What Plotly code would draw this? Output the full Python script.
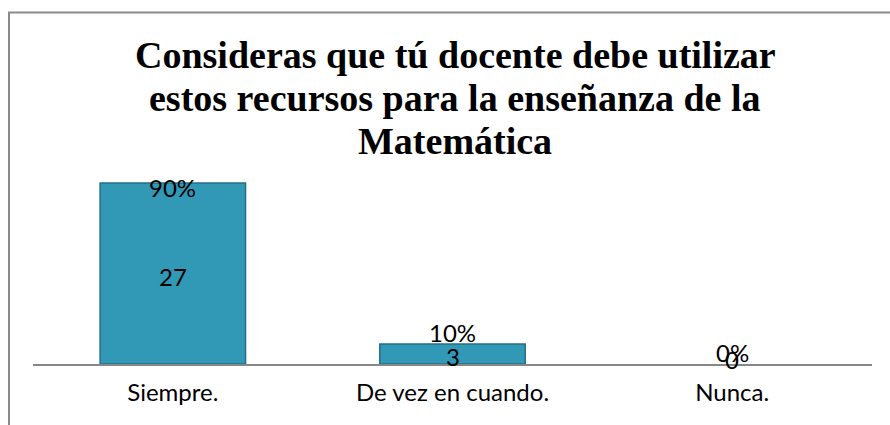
import plotly.graph_objects as go

categories = ["Siempre.", "De vez en cuando.", "Nunca."]
counts = [27, 3, 0]
percents = ["90%", "10%", "0%"]
title_lines = ["Consideras que tú docente debe utilizar",
               "estos recursos para la enseñanza de la",
               "Matemática"]

Y_MAX = 30
label_font = dict(family="Lato, Liberation Sans, sans-serif", size=24, color="#000000")
title_font = dict(family="Liberation Serif, Times New Roman, serif", size=38, color="#000000")

fig = go.Figure()
fig.add_trace(go.Bar(
    x=categories, y=counts,
    marker=dict(color="#3199b6", line=dict(width=0)),
    hoverinfo="x+y",
))
# darker outline (bevel look), omitted for empty bars
fig.add_trace(go.Bar(
    x=categories, y=counts,
    marker=dict(color="rgba(0,0,0,0)",
                line=dict(color="#236f86", width=[1.5 if v > 0 else 0 for v in counts])),
    hoverinfo="skip",
))

annotations = []
for cat, val, pct in zip(categories, counts, percents):
    big = val > 0.5 * Y_MAX
    annotations.append(dict(
        x=cat, y=val, xref="x", yref="y", text=pct, showarrow=False,
        yanchor="middle" if big else "bottom", yshift=-4 if big else -5,
        font=label_font))
    annotations.append(dict(
        x=cat, y=val / 2, xref="x", yref="y", text=str(val), showarrow=False,
        yanchor="middle", yshift=-3 if val else 5, font=label_font))

for i, line in enumerate(title_lines):
    annotations.append(dict(
        x=0.503, y=1.535 - i * 0.212, xref="paper", yref="paper", showarrow=False,
        text="<b>" + line + "</b>", xanchor="center", yanchor="middle",
        font=title_font))

fig.update_layout(
    width=890, height=425,
    margin=dict(l=33, r=18, t=163, b=61),
    paper_bgcolor="white", plot_bgcolor="white",
    showlegend=False,
    barmode="overlay",
    bargap=0.48,
    annotations=annotations,
    xaxis=dict(showline=True, linecolor="#878787", linewidth=2, showgrid=False,
               ticks="outside", ticklen=6, tickcolor="rgba(0,0,0,0)",
               tickfont=label_font, fixedrange=True),
    yaxis=dict(range=[0, Y_MAX], visible=False, fixedrange=True),
    shapes=[dict(type="path", xref="paper", yref="paper",
                 path="M -0.0286,-0.5 L -0.0286,1.7488 L 1.05,1.7488",
                 line=dict(color="#8a8a8a", width=2))],
)

fig.write_html("out.html", config={"displayModeBar": False})
